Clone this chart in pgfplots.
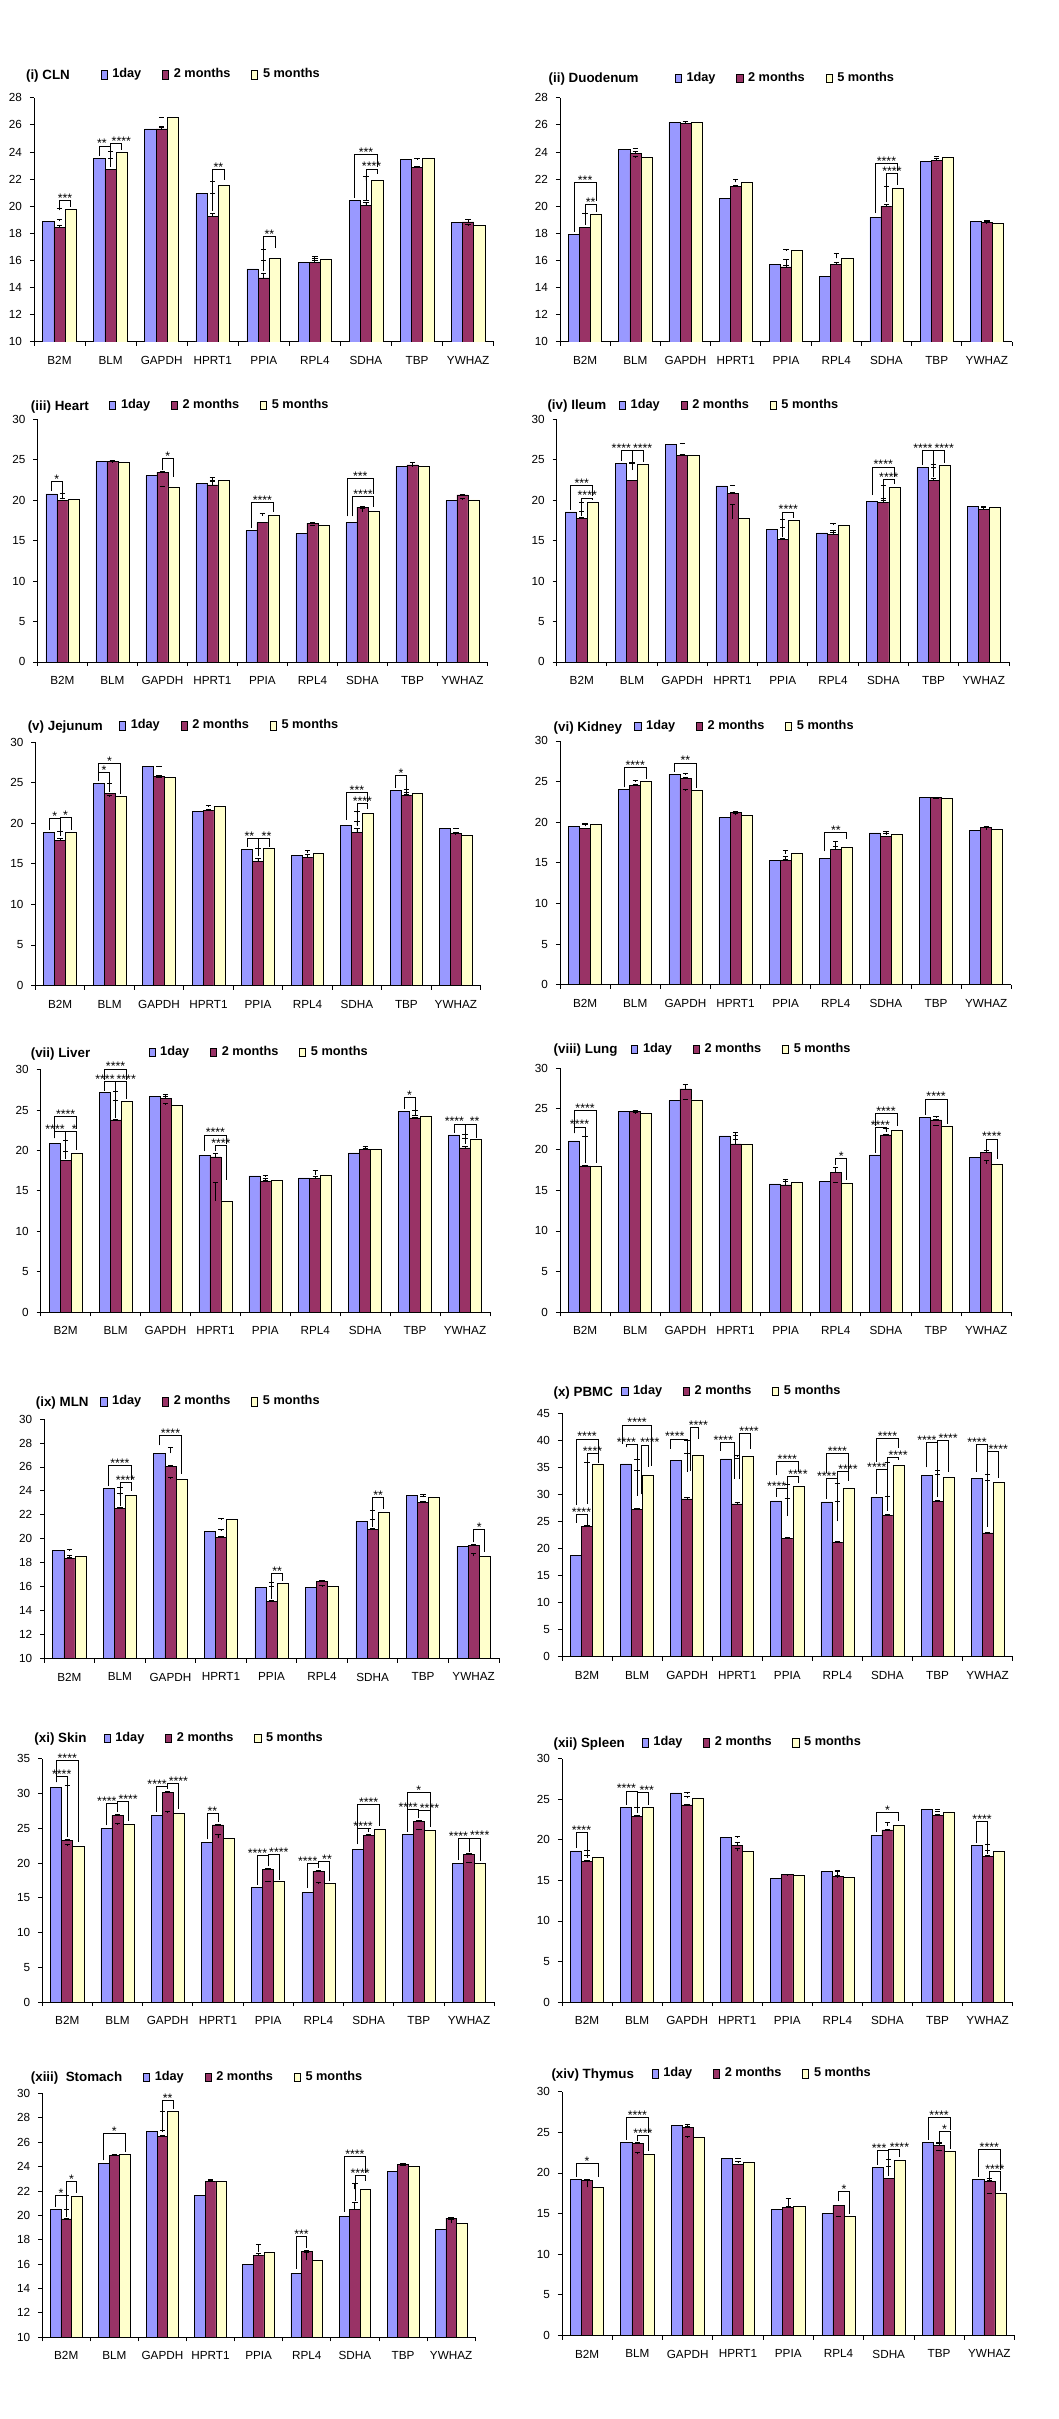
\documentclass[border=0pt]{standalone}
\usepackage{pgfplots}
\usepackage{pgfplotstable}
\pgfplotsset{compat=1.18}
\usepackage{fontspec}
\setmainfont{Liberation Sans}
\newcommand{\tlfont}{\fontsize{5.7}{6.5}\selectfont}
\newcommand{\lgfont}{\fontsize{6.2}{7}\selectfont\bfseries}
\newcommand{\ttfont}{\fontsize{6.5}{7}\selectfont\bfseries}
\newcommand{\stfont}{\fontsize{6}{6}\selectfont}
\definecolor{cA}{HTML}{9999FF}
\definecolor{cB}{HTML}{993366}
\definecolor{cC}{HTML}{FFFFCC}
\tikzset{ttl/.style={anchor=base west, font=\ttfont, inner sep=0pt}}
\pgfplotsset{
 sq/.style={legend image code/.code={\draw[##1,line width=0.3pt] (0pt,-2pt) rectangle (3pt,2pt);}},
 errs/.style={error bars/y dir=plus, error bars/y explicit,
   error bars/error bar style={line width=0.4pt,black},
   error bars/error mark options={rotate=90, line width=0.4pt, mark size=1.3pt, black}},
 bA/.style={ybar, bar width=0.22, bar shift=-0.22, fill=cA, draw=black, line width=0.3pt, sq, errs},
 bB/.style={ybar, bar width=0.22, bar shift=0, fill=cB, draw=black, line width=0.3pt, sq, errs},
 bC/.style={ybar, bar width=0.22, bar shift=0.22, fill=cC, draw=black, line width=0.3pt, sq, errs},
 pnl/.style={scale only axis, anchor=south west, clip mode=individual,
   xmin=-0.5, xmax=8.5, xtick={-0.5,0.5,...,8.5}, x tick label as interval,
   xticklabels={B2M,BLM,GAPDH,HPRT1,PPIA,RPL4,SDHA,TBP,YWHAZ},
   axis lines*=left, axis line style={-, line width=0.4pt},
   xtick pos=left, ytick pos=left,
   tick align=outside, major tick length=2pt, tick style={black, line width=0.4pt},
   tick label style={font=\tlfont}, /pgf/number format/assume math mode=true,
   yticklabel style={xshift=-0.3pt}, xticklabel style={yshift=-1.5pt},
   legend columns=3,
   legend style={draw=none, fill=none, anchor=west, font=\lgfont, inner sep=0pt,
     nodes={inner sep=0.6pt},
     legend cell align=left,
     /tikz/every odd column/.append style={column sep=1.8pt},
     /tikz/every even column/.append style={column sep=9.5pt}},
   enlargelimits=false}
}
% #1 xshift of label, #2 category, #3 #4 bar offsets, #5 #6 leg bottoms, #7 top, #8 label
\newcommand{\br}[8][0pt]{%
  \draw[line width=0.35pt] (axis cs:{#2+#3*0.22},#5) -- (axis cs:{#2+#3*0.22},#7) -- (axis cs:{#2+#4*0.22},#7) -- (axis cs:{#2+#4*0.22},#6);
  \node[font=\stfont, anchor=base, inner sep=0pt, xshift=#1, yshift=-1pt] at (axis cs:{#2+(#3+#4)*0.11},#7) {#8};}
\newcommand{\bars}[1]{%
  \addplot[bA] table[x=x,y=a,y error=ea]{#1};
  \addplot[bB] table[x=x,y=b,y error=eb]{#1};
  \addplot[bC] table[x=x,y=c,y error=ec]{#1};
  \legend{1day,2 months,5 months}}

\pgfplotstableread{
x a b c ea eb ec
0 18.9 18.45 19.8 0.1 0.1 0.05
1 23.5 22.7 23.95 0.05 0.05 0.1
2 25.7 25.7 26.52 0.1 0.15 0.05
3 20.92 19.25 21.53 0.05 0.25 0.3
4 15.38 14.72 16.15 0.6 0.3 0.65
5 15.88 15.85 16.12 0.3 0.15 0.2
6 20.4 20.06 21.9 0.05 0.2 0.3
7 23.45 22.86 23.5 0.05 0.05 0.05
8 18.78 18.85 18.6 0.05 0.15 0.05
}\tCLN
\pgfplotstableread{
x a b c ea eb ec
0 17.95 18.41 19.44 0.05 0.05 0.05
1 24.21 23.87 23.6 0.05 0.15 0.05
2 26.18 26.13 26.18 0.05 0.1 0.05
3 20.57 21.48 21.75 0.15 0.05 0.25
4 15.7 15.53 16.74 0.4 0.1 0.05
5 14.84 15.7 16.15 0.6 0.15 0.35
6 19.17 20.0 21.31 0.2 0.15 0.15
7 23.28 23.4 23.6 0.05 0.15 0.1
8 18.9 18.8 18.73 0.05 0.05 0.05
}\tDuo
\pgfplotstableread{
x a b c ea eb ec
0 20.77 19.94 20.1 0.05 0.05 0.1
1 24.8 24.8 24.68 0.05 0.05 0.05
2 23.03 23.44 21.63 0.2 0.1 0.05
3 22.04 21.88 22.41 0.3 0.5 0.4
4 16.23 17.22 18.09 0.1 0.05 0.2
5 15.86 17.14 16.85 0.5 0.1 0.05
6 17.22 19.12 18.58 0.4 0.1 0.4
7 24.15 24.35 24.15 0.1 0.3 0.1
8 19.94 20.64 20.02 0.3 0.05 0.2
}\tHeart
\pgfplotstableread{
x a b c ea eb ec
0 18.54 17.76 19.7 0.05 0.1 0.05
1 24.56 22.41 24.39 0.1 0.05 0.1
2 26.9 25.5 25.5 0.1 0.1 0.1
3 21.76 20.85 17.72 0.05 0.1 1.7
4 16.36 15.12 17.51 0.3 0.1 0.1
5 15.95 15.78 16.89 0.3 0.2 0.2
6 19.86 19.7 21.55 0.4 0.3 0.3
7 24.02 22.46 24.27 0.05 0.2 0.1
8 19.2 18.87 19.12 0.05 0.2 0.05
}\tIleum
\pgfplotstableread{
x a b c ea eb ec
0 18.9 17.92 18.9 0.05 0.2 0.05
1 24.86 23.63 23.3 0.1 0.1 0.1
2 26.96 25.81 25.6 0.1 0.05 0.05
3 21.41 21.62 22.07 0.1 0.05 0.1
4 16.81 15.25 16.85 0.05 0.4 0.1
5 16.07 15.78 16.32 0.1 0.4 0.3
6 19.77 18.9 21.25 0.4 0.5 0.2
7 24.08 23.47 23.67 0.05 0.05 0.1
8 19.32 18.78 18.54 0.1 0.05 0.3
}\tJej
\pgfplotstableread{
x a b c ea eb ec
0 19.49 19.2 19.74 0.2 0.05 0.05
1 24.0 24.54 25.03 0.05 0.1 0.1
2 25.89 25.36 23.92 0.1 0.2 0.1
3 20.56 21.21 20.85 0.4 0.1 0.2
4 15.31 15.31 16.13 0.5 0.1 0.4
5 15.51 16.66 16.87 0.7 0.3 0.8
6 18.67 18.22 18.5 0.2 0.05 0.1
7 23.02 23.02 22.9 0.05 0.05 0.05
8 18.96 19.33 19.08 0.05 0.1 0.4
}\tKid
\pgfplotstableread{
x a b c ea eb ec
0 20.89 18.75 19.65 0.3 0.05 0.2
1 27.15 23.77 26.04 0.1 0.05 0.1
2 26.7 26.45 25.59 0.2 0.2 0.2
3 19.41 19.2 13.76 0.2 0.4 2.3
4 16.85 16.15 16.32 0.05 0.2 0.2
5 16.6 16.52 16.98 0.2 0.05 0.5
6 19.7 20.15 20.19 0.05 0.3 0.05
7 24.8 24.02 24.27 0.1 0.05 0.1
8 21.92 20.31 21.34 0.1 0.2 0.1
}\tLiver
\pgfplotstableread{
x a b c ea eb ec
0 21.07 17.99 17.99 0.6 0.05 0.05
1 24.71 24.67 24.43 0.05 0.1 0.1
2 26.02 27.46 26.1 0.1 0.5 0.1
3 21.68 20.7 20.7 0.1 1.4 0.5
4 15.78 15.66 15.98 0.5 0.4 0.3
5 16.11 17.21 15.9 0.2 0.6 0.1
6 19.34 21.8 22.38 0.1 0.1 0.2
7 23.98 23.65 22.91 0.05 0.05 0.1
8 19.06 19.67 18.24 0.05 0.2 0.4
}\tLung
\pgfplotstableread{
x a b c ea eb ec
0 19.05 18.36 18.52 0.05 0.05 0.05
1 24.21 22.53 23.6 0.05 0.05 0.15
2 27.16 26.07 24.99 0.5 0.05 0.15
3 20.64 20.14 21.64 0.15 0.05 0.05
4 15.96 14.79 16.3 0.05 0.05 0.05
5 15.96 16.46 16.04 0.15 0.05 0.05
6 21.48 20.81 22.23 0.15 0.05 0.1
7 23.62 23.06 23.48 0.05 0.05 0.05
8 19.39 19.47 18.55 0.05 0.05 0.2
}\tMLN
\pgfplotstableread{
x a b c ea eb ec
0 18.8 24.04 35.64 0.3 0.2 0.3
1 35.64 27.19 33.6 0.9 0.2 0.8
2 36.25 29.16 37.3 1.4 0.3 2.6
3 36.56 28.24 37.05 0.1 0.3 0.1
4 28.8 21.9 31.45 0.4 0.1 0.4
5 28.6 21.2 31.2 0.2 0.1 0.9
6 29.5 26.1 35.3 0.1 0.2 0.7
7 33.5 28.7 33.2 0.9 0.2 0.5
8 32.9 22.9 32.2 0.8 0.1 0.3
}\tPBMC
\pgfplotstableread{
x a b c ea eb ec
0 30.87 23.3 22.43 0.3 0.1 0.3
1 24.98 26.85 25.55 0.1 0.1 0.1
2 26.85 30.15 27.18 0.1 0.1 0.2
3 22.92 25.46 23.54 0.1 0.1 0.6
4 16.45 19.13 17.31 0.05 0.1 0.1
5 15.73 18.79 17.07 0.3 0.2 0.1
6 21.91 24.02 24.83 0.4 0.1 0.2
7 24.07 25.98 24.74 0.05 0.1 0.1
8 19.94 21.24 19.99 0.2 0.1 0.1
}\tSkin
\pgfplotstableread{
x a b c ea eb ec
0 18.62 17.35 17.84 0.05 0.05 0.2
1 24.0 22.93 24.0 0.05 0.1 0.05
2 25.77 24.29 25.11 0.05 0.05 0.2
3 20.26 19.32 18.58 0.1 0.3 0.3
4 15.21 15.7 15.58 0.2 0.05 0.15
5 16.07 15.5 15.33 0.1 0.15 0.8
6 20.55 21.21 21.74 0.1 0.1 0.4
7 23.72 23.02 23.43 0.05 0.05 0.1
8 19.32 18.0 18.54 0.1 0.1 0.1
}\tSpleen
\pgfplotstableread{
x a b c ea eb ec
0 20.47 19.7 21.52 0.05 0.05 0.15
1 24.23 24.94 24.97 0.05 0.05 0.05
2 26.88 26.5 28.5 0.05 0.05 0.05
3 21.66 22.8 22.78 0.3 0.05 0.15
4 15.96 16.68 16.98 0.4 0.2 0.6
5 15.23 17.06 16.32 0.15 0.05 0.6
6 19.93 20.45 22.12 0.2 0.6 0.5
7 23.6 24.2 24.04 0.05 0.05 0.05
8 18.86 19.77 19.36 0.05 0.05 0.3
}\tStom
\pgfplotstableread{
x a b c ea eb ec
0 19.16 19.08 18.22 0.05 0.1 1.0
1 23.76 23.59 22.28 0.05 0.05 0.2
2 25.85 25.6 24.41 0.1 0.1 0.05
3 21.79 21.05 21.26 0.05 0.05 0.1
4 15.47 15.8 15.88 0.15 0.05 1.0
5 15.02 16.0 14.65 0.9 0.05 0.05
6 20.72 19.33 21.58 0.1 0.05 0.1
7 23.76 23.39 22.69 0.05 0.2 0.1
8 19.2 19.0 17.48 0.1 0.05 0.05
}\tThy

\begin{document}
\begin{tikzpicture}
\useasboundingbox (0,0) rectangle (514.5pt,-1176pt);
\fill[white] (0,0) rectangle (514.5pt,-1176pt);

% (i) CLN
\begin{axis}[pnl, at={(16.5pt,-166.2pt)}, width=223.5pt, height=118.7pt,
  ymin=10, ymax=28, ytick={10,12,...,28},
  legend style={at={(axis description cs:0.144,1.094)}}]
\bars{\tCLN}
\node[ttl] at (axis description cs:-0.018,1.075) {(i) CLN};
\br{0}{0}{1}{19.7}{19.95}{20.45}{***}
\br[-1.5pt]{1}{-1}{0}{23.7}{23.9}{24.45}{**}
\br[2.5pt]{1}{0}{1}{22.9}{24.15}{24.6}{****}
\br{3}{0}{1}{19.65}{21.95}{22.7}{**}
\br{4}{0}{1}{15.2}{16.95}{17.75}{**}
\br{6}{-1}{1}{20.6}{22.9}{23.85}{***}
\br{6}{0}{1}{20.4}{22.35}{22.75}{****}
\end{axis}

% (ii) Duodenum
\begin{axis}[pnl, at={(272.25pt,-166.2pt)}, width=219.75pt, height=118.7pt,
  ymin=10, ymax=28, ytick={10,12,...,28},
  legend style={at={(axis description cs:0.253,1.080)}}]
\bars{\tDuo}
\node[ttl] at (axis description cs:-0.026,1.061) {(ii) Duodenum};
\br{0}{-1}{1}{18.1}{20.35}{21.75}{***}
\br{0}{0}{1}{18.6}{19.6}{20.15}{**}
\br{6}{-1}{1}{19.5}{22.6}{23.15}{****}
\br{6}{0}{1}{20.3}{21.6}{22.45}{****}
\end{axis}

% (iii) Heart
\begin{axis}[pnl, at={(18.15pt,-321.8pt)}, width=218.85pt, height=118.05pt,
  ymin=0, ymax=30, ytick={0,5,...,30},
  legend style={at={(axis description cs:0.159,1.056)}}]
\bars{\tHeart}
\node[ttl] at (axis description cs:-0.015,1.037) {(iii) Heart};
\br{0}{-1}{0}{21.1}{20.2}{22.33}{*}
\br{2}{0}{1}{23.7}{22.9}{25.18}{*}
\br{4}{-1}{1}{16.5}{18.5}{19.7}{****}
\br{6}{-1.4}{1}{18.0}{20.8}{22.66}{***}
\br{6}{-0.9}{1}{18.0}{19.2}{20.48}{****}
\end{axis}

% (iv) Ileum
\begin{axis}[pnl, at={(270.6pt,-321.8pt)}, width=219.9pt, height=118.05pt,
  ymin=0, ymax=30, ytick={0,5,...,30},
  legend style={at={(axis description cs:0.137,1.058)}}]
\bars{\tIleum}
\node[ttl] at (axis description cs:-0.021,1.039) {(iv) Ileum};
\br{0}{-1}{1}{18.8}{20.5}{21.84}{***}
\br{0}{0}{1}{18.0}{20.0}{20.27}{****}
\br[-2.5pt]{1}{-1}{0}{24.85}{23.7}{26.16}{****}
\br[2.5pt]{1}{0}{1}{23.7}{24.7}{26.16}{****}
\br{4}{0}{1}{15.4}{17.8}{18.54}{****}
\br{6}{-1}{1}{20.6}{22.8}{24.1}{****}
\br{6}{0}{1}{20.3}{22.0}{22.54}{****}
\br[-2.5pt]{7}{-1}{0}{24.3}{22.8}{26.16}{****}
\br[2.5pt]{7}{0}{1}{22.8}{24.6}{26.16}{****}
\end{axis}

% (v) Jejunum
\begin{axis}[pnl, at={(17.2pt,-479.1pt)}, width=216.45pt, height=118.35pt,
  ymin=0, ymax=30, ytick={0,5,...,30},
  legend style={at={(axis description cs:0.187,1.067)}}]
\bars{\tJej}
\node[ttl] at (axis description cs:-0.018,1.048) {(v) Jejunum};
\br{0}{-1}{0}{19.2}{18.4}{20.63}{*}
\br{0}{0}{1}{18.4}{19.2}{20.76}{*}
\br{1}{-1}{1}{25.2}{23.6}{27.41}{*}
\br{1}{-1}{0}{25.2}{23.9}{26.3}{*}
\br[-1.5pt]{4}{-1}{0}{17.1}{15.9}{18.17}{**}
\br[1.5pt]{4}{0}{1}{15.9}{17.1}{18.17}{**}
\br{6}{-1}{1}{20.4}{22.6}{23.76}{***}
\br{6}{0}{1}{19.6}{21.7}{22.4}{****}
\br{7}{-1}{0}{24.4}{23.7}{25.85}{*}
\end{axis}

% (vi) Kidney
\begin{axis}[pnl, at={(272.25pt,-478.7pt)}, width=219.4pt, height=118.5pt,
  ymin=0, ymax=30, ytick={0,5,...,30},
  legend style={at={(axis description cs:0.164,1.059)}}]
\bars{\tKid}
\node[ttl] at (axis description cs:-0.015,1.040) {(vi) Kidney};
\br{1}{-1}{1}{24.3}{25.3}{26.71}{****}
\br{2}{-1}{1}{26.2}{24.2}{27.3}{**}
\br{5}{-1}{1}{16.4}{17.9}{18.7}{**}
\end{axis}

% (vii) Liver
\begin{axis}[pnl, at={(19.8pt,-637.95pt)}, width=218.4pt, height=118pt,
  ymin=0, ymax=30, ytick={0,5,...,30},
  legend style={at={(axis description cs:0.239,1.070)}}]
\bars{\tLiver}
\node[ttl] at (axis description cs:-0.023,1.051) {(vii) Liver};
\br{0}{-1}{1}{21.5}{22.6}{24.23}{****}
\br[-2.5pt]{0}{-1}{0}{21.5}{19.0}{22.37}{****}
\br[1.5pt]{0}{0}{1}{19.0}{20.1}{22.37}{*}
\br{1}{-1}{1}{28.7}{28.7}{30.08}{****}
\br[-2.5pt]{1}{-1}{0}{27.4}{24.0}{28.55}{****}
\br[2.5pt]{1}{0}{1}{24.0}{26.3}{28.55}{****}
\br{3}{-1}{1}{19.9}{20.8}{21.92}{****}
\br{3}{0}{1}{19.9}{16.3}{20.64}{****}
\br{7}{-1}{0}{25.1}{24.3}{26.53}{*}
\br[-2.5pt]{8}{-1}{0}{22.2}{20.8}{23.28}{****}
\br[2pt]{8}{0}{1}{20.8}{21.6}{23.28}{**}
\end{axis}

% (viii) Lung
\begin{axis}[pnl, at={(272.25pt,-637.95pt)}, width=219.4pt, height=118.65pt,
  ymin=0, ymax=30, ytick={0,5,...,30},
  legend style={at={(axis description cs:0.157,1.078)}}]
\bars{\tLung}
\node[ttl] at (axis description cs:-0.015,1.059) {(viii) Lung};
\br{0}{-1}{1}{22.0}{18.3}{24.8}{****}
\br{0}{-1}{0}{22.0}{18.3}{22.79}{****}
\br{5}{0}{1}{18.1}{16.2}{18.93}{*}
\br{6}{-1}{1}{22.9}{22.9}{24.47}{****}
\br{6}{-1}{0}{19.6}{22.1}{22.75}{****}
\br{7}{-1}{1}{24.3}{23.2}{26.23}{****}
\br{8}{0}{1}{20.0}{18.9}{21.31}{****}
\end{axis}

% (ix) MLN
\begin{axis}[pnl, at={(21.45pt,-806.25pt)}, width=221.1pt, height=116.4pt,
  ymin=10, ymax=30, ytick={10,12,...,30},
  legend style={at={(axis description cs:0.123,1.072)}}]
\bars{\tMLN}
\node[ttl] at (axis description cs:-0.019,1.053) {(ix) MLN};
\br{1}{-1}{1}{24.4}{24.9}{26.16}{****}
\br{1}{0}{1}{22.7}{23.95}{24.7}{****}
\br{2}{-1}{1}{27.8}{25.4}{28.66}{****}
\br{4}{0}{1}{15.0}{16.5}{17.13}{**}
\br{6}{0}{1}{21.0}{22.5}{23.45}{**}
\br{8}{0}{1}{19.7}{18.9}{20.81}{*}
\end{axis}

% (x) PBMC
\begin{axis}[pnl, at={(273.2pt,-805.4pt)}, width=219.1pt, height=118.35pt,
  ymin=0, ymax=45, ytick={0,5,...,45},
  legend style={at={(axis description cs:0.131,1.089)}}]
\bars{\tPBMC}
\node[ttl] at (axis description cs:-0.0195,1.070) {(x) PBMC};
\br{0}{-1}{0}{24.8}{24.4}{26.26}{****}
\br{0}{0}{1}{28.2}{35.9}{37.6}{****}
\br{0}{-1}{1}{28.0}{37.5}{40.26}{****}
\br{1}{-1.3}{1.3}{39.3}{35.3}{42.85}{****}
\br[-2.5pt]{1}{-1}{0}{38.7}{29.8}{39.3}{****}
\br[2.5pt]{1}{0.4}{1}{30.0}{35.0}{39.15}{****}
\br[-2pt]{2}{-1.5}{0}{38.4}{34.1}{40.26}{****}
\br[2pt]{2}{0.3}{1}{34.4}{40.2}{42.4}{****}
\br[-2pt]{3}{-1.5}{-0.3}{38.1}{32.8}{39.6}{****}
\br[2pt]{3}{0.2}{1.2}{32.8}{38.4}{41.2}{****}
\br{4}{-1}{1}{33.5}{34.1}{36.07}{****}
\br[-2.5pt]{4}{-1}{0}{29.6}{26.0}{31.1}{****}
\br[2.5pt]{4}{0}{1}{26.0}{32.2}{33.4}{****}
\br{5}{-1}{1}{34.0}{33.5}{37.5}{****}
\br[-2.5pt]{5}{-1}{0}{29.2}{25.0}{33.0}{****}
\br[2.5pt]{5}{0}{1}{25.0}{32.5}{34.3}{****}
\br{6}{-1}{1}{36.0}{38.5}{40.3}{****}
\br[-2.5pt]{6}{-1}{0}{30.0}{27.0}{34.7}{****}
\br[2.5pt]{6}{0}{1}{27.0}{36.3}{36.9}{****}
\br[-2.5pt]{7}{-1}{0}{35.0}{29.5}{39.6}{****}
\br[2.5pt]{7}{0}{1}{29.5}{34.2}{40.0}{****}
\br[-2.5pt]{8}{-1}{0}{34.2}{24.0}{39.3}{****}
\br[2.5pt]{8}{0}{1}{24.0}{33.0}{37.9}{****}
\end{axis}

% (xi) Skin
\begin{axis}[pnl, at={(20.5pt,-973.3pt)}, width=219.75pt, height=118.35pt,
  ymin=0, ymax=35, ytick={0,5,...,35},
  legend style={at={(axis description cs:0.135,1.085)}}]
\bars{\tSkin}
\node[ttl] at (axis description cs:-0.018,1.066) {(xi) Skin};
\br{0}{-1}{1}{31.6}{23.0}{34.76}{****}
\br{0}{-1}{0}{31.6}{23.7}{32.46}{****}
\br[-2.5pt]{1}{-1}{0}{25.4}{27.3}{28.57}{****}
\br[2.5pt]{1}{0}{1}{27.3}{26.0}{28.86}{****}
\br[-2.5pt]{2}{-1}{0}{27.3}{30.6}{31.0}{****}
\br[2.5pt]{2}{0}{1}{30.6}{27.8}{31.4}{****}
\br{3}{-1}{0}{23.4}{25.9}{27.13}{**}
\br[-2.5pt]{4}{-1}{0}{16.9}{19.5}{21.05}{****}
\br[2.5pt]{4}{0}{1}{19.5}{17.6}{21.24}{****}
\br[-2.5pt]{5}{-1}{0}{16.4}{19.3}{20.0}{****}
\br[1.5pt]{5}{0}{1}{19.3}{17.4}{20.2}{**}
\br{6}{-1}{1}{22.7}{25.3}{28.4}{****}
\br{6}{-1}{0}{22.7}{24.4}{25.0}{****}
\br{7}{-1}{1}{27.7}{27.5}{30.1}{*}
\br[-2.5pt]{7}{-1}{0}{24.5}{26.4}{27.7}{****}
\br[2.5pt]{7}{0}{1}{26.4}{25.1}{27.5}{****}
\br[-2.5pt]{8}{-1}{0}{20.4}{21.6}{23.5}{****}
\br[2.5pt]{8}{0}{1}{21.6}{20.3}{23.6}{****}
\end{axis}

% (xii) Spleen
\begin{axis}[pnl, at={(273.2pt,-973.3pt)}, width=219.1pt, height=118.35pt,
  ymin=0, ymax=30, ytick={0,5,...,30},
  legend style={at={(axis description cs:0.176,1.065)}}]
\bars{\tSpleen}
\node[ttl] at (axis description cs:-0.0195,1.046) {(xii) Spleen};
\br{0}{-1}{0}{19.0}{17.7}{20.96}{****}
\br[-2.5pt]{1}{-1}{0}{24.3}{23.3}{26.02}{****}
\br[2pt]{1}{0}{1}{23.3}{24.3}{25.8}{***}
\br{6}{-1}{1}{20.9}{22.3}{23.39}{*}
\br{8}{-1}{0}{19.6}{18.3}{22.24}{****}
\end{axis}

% (xiii) Stomach
\begin{axis}[pnl, at={(20.5pt,-1136.2pt)}, width=210.5pt, height=118.5pt,
  ymin=10, ymax=30, ytick={10,12,...,30},
  legend style={at={(axis description cs:0.232,1.067)}}]
\bars{\tStom}
\node[ttl] at (axis description cs:-0.027,1.048) {(xiii)\ \ Stomach};
\br{0}{-1}{0}{20.7}{19.9}{21.63}{*}
\br{0}{0}{1}{21.63}{21.8}{22.75}{*}
\br{1}{-1}{1}{24.5}{25.2}{26.7}{*}
\br{2}{0}{1}{26.8}{28.7}{29.45}{**}
\br{5}{-1}{0}{15.6}{17.3}{18.23}{***}
\br{6}{-1}{1}{20.3}{23.5}{24.8}{****}
\br{6}{0}{1}{21.2}{22.8}{23.24}{****}
\end{axis}

% (xiv) Thymus
\begin{axis}[pnl, at={(273.2pt,-1135.35pt)}, width=220pt, height=118.5pt,
  ymin=0, ymax=30, ytick={0,5,...,30},
  legend style={at={(axis description cs:0.197,1.073)}}]
\bars{\tThy}
\node[ttl] at (axis description cs:-0.024,1.054) {(xiv) Thymus};
\br{0}{-1}{1}{19.5}{19.5}{21.21}{*}
\br{1}{-1}{1}{24.1}{24.9}{26.84}{****}
\br{1}{0}{1}{23.9}{22.7}{24.62}{****}
\br{5}{0}{1}{16.5}{15.0}{17.73}{*}
\br[-2pt]{6}{-1}{0}{21.0}{19.6}{22.81}{***}
\br[2.5pt]{6}{0}{1}{19.6}{21.9}{22.9}{****}
\br{7}{-1}{1}{24.1}{25.3}{26.84}{****}
\br{7}{0}{1}{23.8}{23.0}{25.07}{*}
\br{8}{-1}{1}{19.5}{20.4}{22.94}{****}
\br{8}{0}{1}{19.3}{17.8}{20.19}{****}
\end{axis}
\end{tikzpicture}
\end{document}
